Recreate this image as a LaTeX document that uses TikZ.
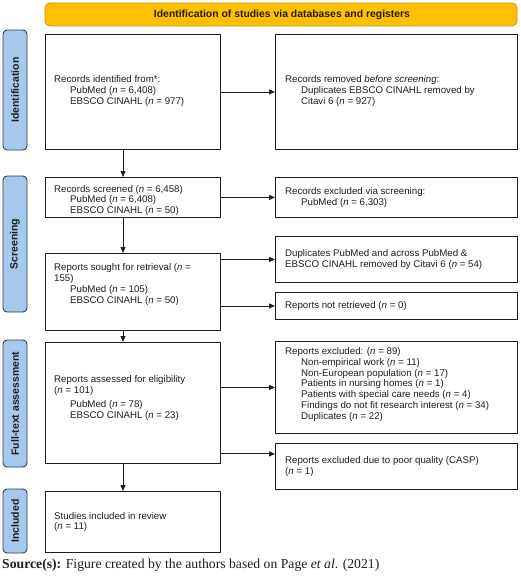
\documentclass[tikz,border=0pt]{standalone}
\usepackage{fontspec}
\setmainfont{Liberation Sans}
\newfontfamily\srcfont{Liberation Serif}
\usetikzlibrary{arrows.meta,calc}
\definecolor{sidefill}{RGB}{165,200,236}
\definecolor{sidedraw}{RGB}{44,62,85}
\definecolor{banfill}{RGB}{255,192,0}
\definecolor{bandraw}{RGB}{200,150,20}
\definecolor{ink}{RGB}{30,30,30}
\newcommand\myind{\hspace*{16pt}}
\newcommand\itn{\textit{n}}
\begin{document}
\begin{tikzpicture}[x=1pt,y=-1pt,
  box/.style={draw=ink, line width=0.9pt, inner sep=0pt, anchor=north west},
  txt/.style={font=\fontsize{9.7}{10.8}\selectfont, align=left, anchor=west, inner sep=0pt, text=ink},
  side/.style={draw=sidedraw, fill=sidefill, rounded corners=4pt, line width=0.9pt},
  sidetxt/.style={font=\fontsize{10.5}{12}\selectfont\bfseries, rotate=90, text=ink, inner sep=0pt},
  arr/.style={-{Triangle[length=6pt,width=5pt]}, line width=0.9pt, draw=ink}
]
\useasboundingbox (0,0) rectangle (520,581);

% banner
\draw[draw=bandraw, fill=banfill, rounded corners=5pt, line width=0.9pt] (45,3) rectangle (517,26);
\node[font=\fontsize{10.4}{12}\selectfont\bfseries, text=ink, inner sep=0pt] (ban) at (282,14.5) {Identification of studies via databases and registers};

% side bars
\draw[side] (3,30) rectangle (27,150);
\node[sidetxt] (s1) at (15,90) {Identification};
\draw[side] (3,176) rectangle (27,312);
\node[sidetxt] (s2) at (15,244) {Screening};
\draw[side] (3,340) rectangle (27,467);
\node[sidetxt] (s3) at (15,403.5) {Full-text assessment};
\draw[side] (3,489) rectangle (27,553);
\node[sidetxt] (s4) at (15,521) {Included};

% boxes
\node[box, minimum width=175pt, minimum height=115pt] (b1) at (45,34) {};
\node[box, minimum width=242pt, minimum height=115pt] (r1) at (275,34) {};
\node[box, minimum width=175pt, minimum height=40pt] (b2) at (45,177) {};
\node[box, minimum width=242pt, minimum height=40pt] (r2) at (275,177) {};
\node[box, minimum width=175pt, minimum height=77pt] (b3) at (45,253) {};
\node[box, minimum width=242pt, minimum height=46pt] (r3) at (275,236) {};
\node[box, minimum width=242pt, minimum height=27pt] (r4) at (275,292) {};
\node[box, minimum width=175pt, minimum height=121pt] (b4) at (45,342) {};
\node[box, minimum width=242pt, minimum height=92pt] (r5) at (275,341) {};
\node[box, minimum width=242pt, minimum height=46pt] (r6) at (275,443) {};
\node[box, minimum width=175pt, minimum height=61pt] (b5) at (45,491) {};

% texts
\node[txt] (t1) at ($(b1.west)+(9,-1)$) {Records identified from*:\\ \myind PubMed (\itn{} = 6,408)\\ \myind EBSCO CINAHL (\itn{} = 977)};
\node[txt] (u1) at ($(r1.west)+(10,-1)$) {Records removed \textit{before screening}:\\ \myind Duplicates EBSCO CINAHL removed by\\ \myind Citavi 6 (\itn{} = 927)};
\node[txt] (t2) at ($(b2.west)+(9,3)$) {Records screened (\itn{} = 6,458)\\ \myind PubMed (\itn{} = 6,408)\\ \myind EBSCO CINAHL (\itn{} = 50)};
\node[txt] (u2) at ($(r2.west)+(10,0)$) {Records excluded via screening:\\ \myind PubMed (\itn{} = 6,303)};
\node[txt, anchor=north west] (t3) at ($(b3.north west)+(9,10)$) {Reports sought for retrieval (\itn{} =\\ 155)\\[1pt] \myind PubMed (\itn{} = 105)\\ \myind EBSCO CINAHL (\itn{} = 50)};
\node[txt] (u3) at ($(r3.west)+(10,0)$) {Duplicates PubMed and across PubMed \&\\ EBSCO CINAHL removed by Citavi 6 (\itn{} = 54)};
\node[txt] (u4) at ($(r4.west)+(10,0)$) {Reports not retrieved (\itn{} = 0)};
\node[txt] (t4) at ($(b4.west)+(9,-5)$) {Reports assessed for eligibility\\ (\itn{} = 101)\\[3pt] \myind PubMed (\itn{} = 78)\\ \myind EBSCO CINAHL (\itn{} = 23)};
\node[txt] (u5) at ($(r5.west)+(10,-3)$) {Reports excluded: (\itn{} = 89)\\ \myind Non-empirical work (\itn{} = 11)\\ \myind Non-European population (\itn{} = 17)\\ \myind Patients in nursing homes (\itn{} = 1)\\ \myind Patients with special care needs (\itn{} = 4)\\ \myind Findings do not fit research interest (\itn{} = 34)\\ \myind Duplicates (\itn{} = 22)};
\node[txt] (u6) at ($(r6.west)+(10,0)$) {Reports excluded due to poor quality (CASP)\\ (\itn{} = 1)};
\node[txt] (t5) at ($(b5.west)+(9,0)$) {Studies included in review\\ (\itn{} = 11)};

% source
\node[anchor=west, inner sep=0pt, font=\srcfont\fontsize{13.7}{15}\selectfont, text=ink] (src) at (2,565) {\textbf{Source(s):} Figure created by the authors based on Page \textit{et al}. (2021)};

% connectors
\coordinate (ax) at (123,0);
\draw[arr] (b1.east) -- (r1.west);
\draw[arr] (b1.south -| ax) -- (b2.north -| ax);
\draw[arr] (b2.east) -- (r2.west);
\draw[arr] (b2.south -| ax) -- (b3.north -| ax);
\draw[arr] (b3.east |- r3.west) -- (r3.west);
\draw[arr] (b3.east |- r4.west) -- (r4.west);
\draw[arr] (b3.south -| ax) -- (b4.north -| ax);
\draw[arr] (b4.east |- r5.west) -- (r5.west);
\draw[arr] ([yshift=10pt]b4.south east) coordinate (q6) -- (q6 -| r6.west);
\draw[arr] (b4.south -| ax) -- (b5.north -| ax);
\end{tikzpicture}
\end{document}
